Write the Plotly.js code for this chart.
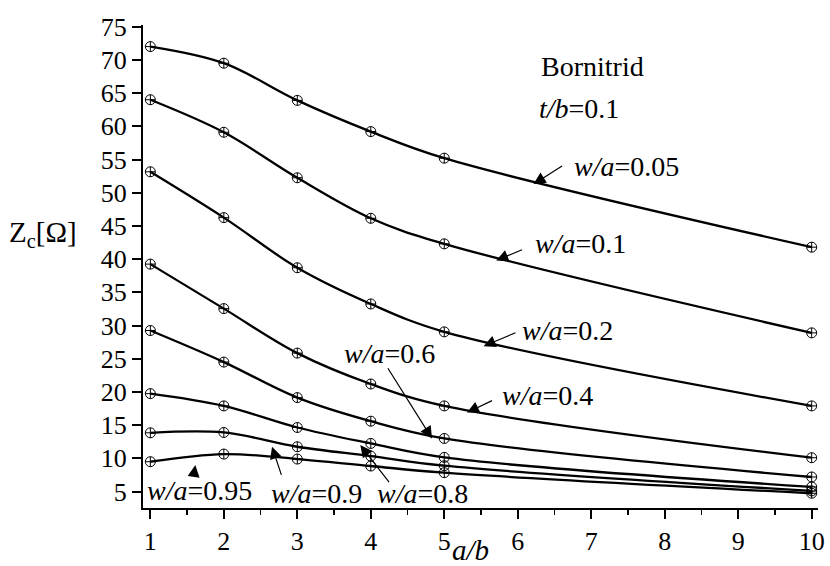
<!DOCTYPE html>
<html>
<head>
<meta charset="utf-8">
<script src="https://cdn.plot.ly/plotly-3.0.1.min.js"></script>
<style>html,body{margin:0;padding:0;background:#fff;}#chart{width:830px;height:566px;}</style>
</head>
<body>
<div id="chart"></div>
<script>
// a/b values
const ab = [1, 2, 3, 4, 5, 10];
// Zc [Ohm] for each w/a
const z_005 = [72.0, 69.5, 63.9, 59.2, 55.2, 41.8];
const z_01  = [64.0, 59.1, 52.25, 46.15, 42.3, 28.9];
const z_02  = [53.15, 46.25, 38.7, 33.25, 29.05, 17.9];
const z_04  = [39.25, 32.55, 25.85, 21.2, 17.9, 10.1];
const z_06  = [29.25, 24.5, 19.15, 15.6, 13.0, 7.2];
const z_08  = [19.75, 17.9, 14.65, 12.25, 10.15, 5.7];
const z_09  = [13.85, 13.9, 11.75, 10.35, 8.9, 5.1];
const z_095 = [9.5, 10.65, 9.9, 8.85, 7.85, 4.75];
const seriesNames = ["w/a=0.05","w/a=0.1","w/a=0.2","w/a=0.4","w/a=0.6","w/a=0.8","w/a=0.9","w/a=0.95"];
const seriesVals = [z_005, z_01, z_02, z_04, z_06, z_08, z_09, z_095];
const xTicks = [1,2,3,4,5,6,7,8,9,10];

const FONT = "Liberation Serif";

const traces = seriesVals.map((v, i) => ({
  x: ab, y: v, name: seriesNames[i], type: 'scatter', mode: 'lines+markers',
  line: {color: '#000', width: 2.3, shape: 'spline', smoothing: 1},
  marker: {symbol: 'circle-cross-open', size: 10, color: '#000', line: {color: '#000', width: 1}},
  showlegend: false, cliponaxis: false
}));

// label annotations: [text, x, y]
const labels = [
  ['<i>w/a</i>=0.05', 6.737, 53.9],
  ['<i>w/a</i>=0.1', 6.211, 42.4],
  ['<i>w/a</i>=0.2', 6.034, 29.3],
  ['<i>w/a</i>=0.4', 5.762, 19.5],
  ['<i>w/a</i>=0.6', 3.608, 25.8],
  ['<i>w/a</i>=0.95', 0.932, 5.2],
  ['<i>w/a</i>=0.9', 2.61, 4.7],
  ['<i>w/a</i>=0.8', 4.061, 4.7],
  ['Bornitrid', 6.283, 69.0],
  ['<i>t/b</i>=0.1', 6.261, 62.7]
];
// arrows: head x,y ; tail ax, ay (data coords)
const arrows = [
  [6.215, 51.3, 6.623, 54.17],
  [5.707, 39.8, 6.079, 41.5],
  [5.535, 26.9, 5.989, 29.0],
  [5.309, 16.9, 5.671, 18.8],
  [4.833, 13.0, 4.22, 23.8],
  [1.612, 9.0, 1.589, 7.2],
  [2.656, 11.75, 2.79, 7.3],
  [3.857, 12.0, 4.265, 6.2]
];

const annotations = [];
labels.forEach(l => annotations.push({
  text: l[0], x: l[1], y: l[2], xref: 'x', yref: 'y', xanchor: 'left', yanchor: 'middle',
  showarrow: false, font: {family: FONT, size: 28, color: '#000'}
}));
arrows.forEach(a => annotations.push({
  text: '', x: a[0], y: a[1], ax: a[2], ay: a[3], xref: 'x', yref: 'y', axref: 'x', ayref: 'y',
  showarrow: true, arrowhead: 2, arrowsize: 2, arrowwidth: 1.2, arrowcolor: '#000', standoff: 0
}));
// axis titles
annotations.push({
  text: 'Z<sub>c</sub>[Ω]', xref: 'paper', yref: 'paper', x: 0, y: (507.7-234)/482.7,
  xanchor: 'right', yanchor: 'middle', xshift: -64, showarrow: false,
  font: {family: FONT, size: 29, color: '#000'}
});
annotations.push({
  text: '<i>a/b</i>', xref: 'paper', yref: 'paper', x: (470-142.7)/675.3, y: (507.7-550)/482.7,
  xanchor: 'center', yanchor: 'middle', showarrow: false,
  font: {family: FONT, size: 29, color: '#000'}
});

const layout = {
  width: 830, height: 566,
  margin: {l: 142.7, r: 12, t: 25, b: 58.3},
  paper_bgcolor: '#fff', plot_bgcolor: '#fff',
  font: {family: FONT, size: 26, color: '#000'},
  xaxis: {
    range: [0.9, 10.086], tickvals: xTicks, ticktext: xTicks.map(String),
    showline: true, linecolor: '#000', linewidth: 2, ticks: 'outside', ticklen: 9, tickwidth: 2, tickcolor: '#000',
    showgrid: false, zeroline: false, tickfont: {family: FONT, size: 26, color: '#000'},
    minor: {dtick: 0.5, tick0: 1, ticks: 'outside', ticklen: 5, tickwidth: 1.5, tickcolor: '#000', showgrid: false}
  },
  yaxis: {
    range: [2.53, 75.25], tick0: 5, dtick: 5,
    showline: true, linecolor: '#000', linewidth: 2, ticks: 'outside', ticklen: 9, tickwidth: 2, tickcolor: '#000',
    showgrid: false, zeroline: false, tickfont: {family: FONT, size: 26, color: '#000'}
  },
  annotations: annotations
};

Plotly.newPlot('chart', traces, layout, {staticPlot: true});
</script>
</body>
</html>
